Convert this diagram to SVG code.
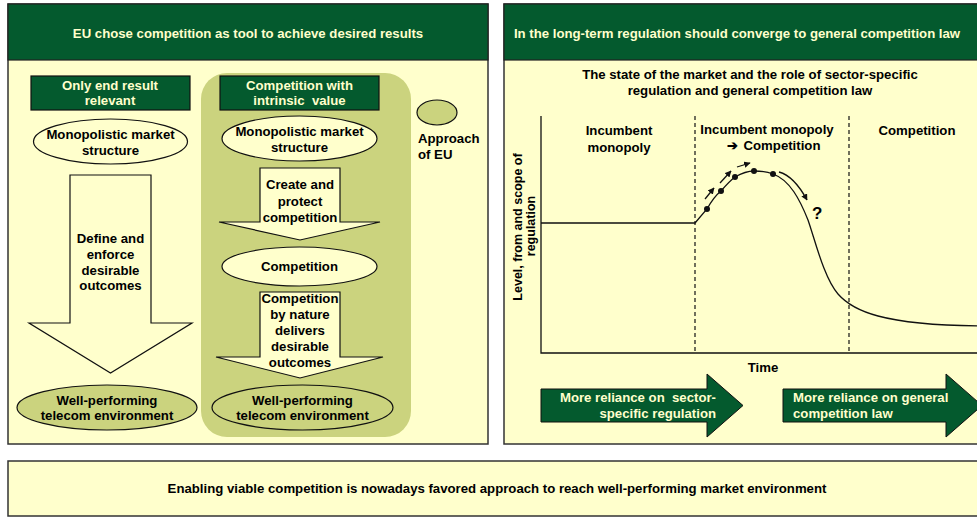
<svg xmlns="http://www.w3.org/2000/svg" width="977" height="517" viewBox="0 0 977 517">
<defs>
<style>
text{font-family:"Liberation Sans",Arial,sans-serif;font-weight:bold;font-size:13.2px;fill:#000;}
.lt{fill:#FFFFCC;}
.c{text-anchor:middle;}
.panel{fill:#FFFFCC;stroke:#333;stroke-width:1.5;}
.hdr{fill:#045A2E;stroke:#222;stroke-width:1.2;}
.gbox{fill:#045A2E;stroke:#111;stroke-width:1.2;}
.ell{fill:#FFFFCC;stroke:#111;stroke-width:1.2;}
.ellg{fill:#CBD37E;stroke:#111;stroke-width:1.2;}
.arr{fill:#FFFFCC;stroke:#111;stroke-width:1.2;}
.garr{fill:#045A2E;stroke:#111;stroke-width:1;}
.ln{fill:none;stroke:#111;stroke-width:1.3;}
.dash{fill:none;stroke:#111;stroke-width:1.2;stroke-dasharray:4,3;}
</style>
<marker id="ah" viewBox="0 0 10 10" refX="9" refY="5" markerWidth="5" markerHeight="5" orient="auto" markerUnits="strokeWidth">
<path d="M0,0 L10,5 L0,10 z" fill="#111"/>
</marker>
</defs>

<!-- Left panel -->
<g id="left-panel">
<rect class="panel" x="8" y="4" width="480" height="440"/>
<rect class="hdr" x="8" y="4" width="480" height="56"/>
<text class="lt c" x="248" y="38">EU chose competition as tool to achieve desired results</text>
</g>
<g id="approach-bg">
<rect x="201" y="73" width="210" height="364" rx="26" ry="26" fill="#CBD37E"/>
</g>
<g id="box-end-result">
<rect class="gbox" x="31" y="76" width="159" height="34"/>
<text class="lt c" x="110" y="90">Only end result</text>
<text class="lt c" x="110" y="105">relevant</text>
</g>
<g id="box-intrinsic">
<rect class="gbox" x="220" y="76" width="159" height="34"/>
<text class="lt c" x="299.5" y="90">Competition with</text>
<text class="lt c" x="299.5" y="105" xml:space="preserve">intrinsic  value</text>
</g>
<g id="legend">
<ellipse class="ellg" cx="437" cy="112.5" rx="20" ry="12.5"/>
<text x="418" y="143">Approach</text>
<text x="418" y="159">of EU</text>
</g>
<g id="mono-left">
<ellipse class="ell" cx="110.5" cy="141.5" rx="77" ry="22.5"/>
<text class="c" x="110.5" y="139">Monopolistic market</text>
<text class="c" x="110.5" y="155">structure</text>
</g>
<g id="mono-right">
<ellipse class="ell" cx="299.5" cy="138.5" rx="77.5" ry="22.5"/>
<text class="c" x="299.5" y="136">Monopolistic market</text>
<text class="c" x="299.5" y="152">structure</text>
</g>
<g id="arrow-define">
<path class="arr" d="M70,175 L151,175 L151,323 L192,323 L110.5,373 L29,323 L70,323 Z"/>
<text class="c" x="110.5" y="243">Define and</text>
<text class="c" x="110.5" y="259">enforce</text>
<text class="c" x="110.5" y="275">desirable</text>
<text class="c" x="110.5" y="290">outcomes</text>
</g>
<g id="arrow-create">
<path class="arr" d="M260,168 L340,168 L340,222 L380,222 L300,240 L219,222 L260,222 Z"/>
<text class="c" x="300" y="189">Create and</text>
<text class="c" x="300" y="206">protect</text>
<text class="c" x="300" y="222">competition</text>
</g>
<g id="competition-ell">
<ellipse class="ell" cx="299.5" cy="266.5" rx="77.5" ry="19.5"/>
<text class="c" x="299.5" y="271">Competition</text>
</g>
<g id="arrow-nature">
<path class="arr" d="M260,292 L340,292 L340,357 L383,357 L300,378 L216,357 L260,357 Z"/>
<text class="c" x="300" y="303">Competition</text>
<text class="c" x="300" y="319">by nature</text>
<text class="c" x="300" y="335">delivers</text>
<text class="c" x="300" y="351">desirable</text>
<text class="c" x="300" y="367">outcomes</text>
</g>
<g id="wp-left">
<ellipse class="ellg" cx="107" cy="407.5" rx="90" ry="22.5"/>
<text class="c" x="107" y="405">Well-performing</text>
<text class="c" x="107" y="420">telecom environment</text>
</g>
<g id="wp-right">
<ellipse class="ellg" cx="302.5" cy="407.5" rx="90.5" ry="22.5"/>
<text class="c" x="302.5" y="405">Well-performing</text>
<text class="c" x="302.5" y="420">telecom environment</text>
</g>

<!-- Right panel -->
<g id="right-panel">
<rect class="panel" x="504" y="4" width="485" height="440"/>
<rect class="hdr" x="504" y="4" width="485" height="56"/>
<text class="lt c" x="737" y="38">In the long-term regulation should converge to general competition law</text>
<text class="c" x="750" y="79">The state of the market and the role of sector-specific</text>
<text class="c" x="750" y="95">regulation and general competition law</text>
</g>
<g id="chart">
<path class="ln" d="M541,116 L541,353 L990,353"/>
<path class="dash" d="M695,116 L695,353"/>
<path class="dash" d="M849,116 L849,353"/>
<text class="c" x="619" y="135">Incumbent</text>
<text class="c" x="619" y="152">monopoly</text>
<text class="c" x="767" y="134">Incumbent monopoly</text>
<text x="727" y="150" font-family="DejaVu Sans,sans-serif">➔</text>
<text class="c" x="782" y="150">Competition</text>
<text class="c" x="917" y="135">Competition</text>
<text class="c" transform="translate(522,227) rotate(-90)" style="font-size:12.5px">Level, from and scope of</text>
<text class="c" transform="translate(535,226) rotate(-90)" style="font-size:12.5px">regulation</text>
<text class="c" x="763" y="372">Time</text>
<text x="812" y="219" style="font-size:17px">?</text>
</g>
<g id="connectors">
<path class="ln" d="M541,223 L695,223 L707,209 C712,200 716,195 721,191 C727,184 731,180 735,177 C742,173 748,171 754,171 C762,171 768,172 773,174 C790,180 800,200 808,220 C815,240 824,278 838,294 C852,310 880,326 990,326"/>
<g fill="#111">
<circle cx="707" cy="209" r="3"/>
<circle cx="721" cy="191" r="3"/>
<circle cx="735" cy="177" r="3"/>
<circle cx="754" cy="171" r="3"/>
<circle cx="773" cy="174" r="3"/>
</g>
<path class="ln" d="M705,199 L714,188" marker-end="url(#ah)"/>
<path class="ln" d="M720,183 L731,171" marker-end="url(#ah)"/>
<path class="ln" d="M737,167 L750,163" marker-end="url(#ah)"/>
<path class="ln" d="M779,172 C790,175 800,187 807,200" marker-end="url(#ah)"/>
</g>
<g id="arrow-sector">
<path class="garr" d="M541,389 L707,389 L707,374 L743,405.5 L707,437 L707,422 L541,422 Z"/>
<text class="lt" x="716" y="402" text-anchor="end" xml:space="preserve">More reliance on  sector-</text>
<text class="lt" x="716" y="418" text-anchor="end">specific regulation</text>
</g>
<g id="arrow-general">
<path class="garr" d="M783,389 L946,389 L946,374 L982,405.5 L946,437 L946,422 L783,422 Z"/>
<text class="lt" x="793" y="402">More reliance on general</text>
<text class="lt" x="793" y="418">competition law</text>
</g>

<!-- Bottom bar -->
<g id="bottom-bar">
<rect class="panel" x="8" y="461" width="985" height="55"/>
<text class="c" x="497" y="493">Enabling viable competition is nowadays favored approach to reach well-performing market environment</text>
</g>
</svg>
